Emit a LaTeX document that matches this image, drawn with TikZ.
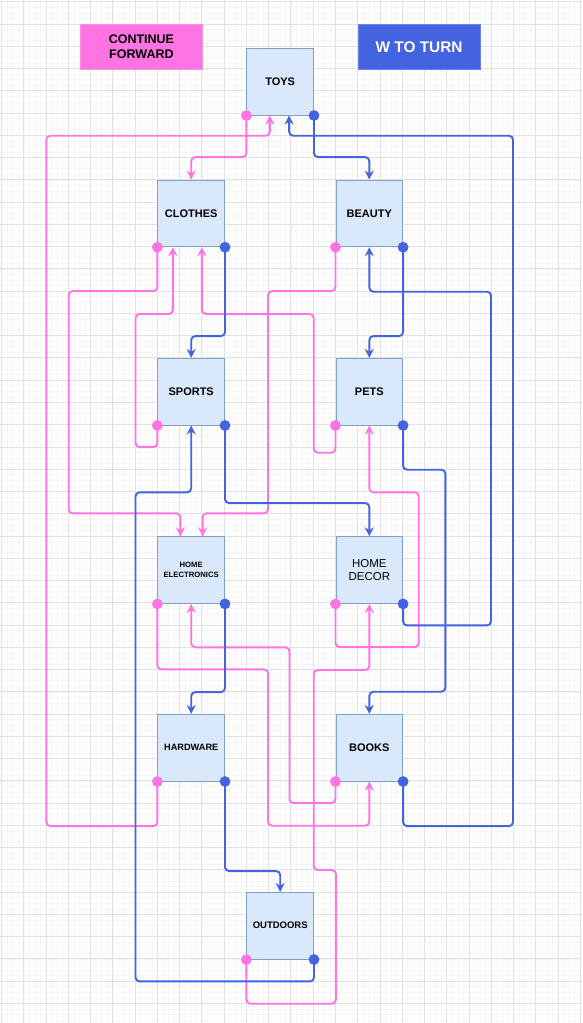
\documentclass[tikz,border=0pt]{standalone}
\usepackage{fontspec}
\setmainfont{Liberation Sans}
\usetikzlibrary{arrows.meta,calc}
\definecolor{pk}{HTML}{FF73E3}
\definecolor{bl}{HTML}{4363E0}
\definecolor{boxfill}{HTML}{DAE8FC}
\definecolor{boxdraw}{HTML}{7F9FCF}
\definecolor{gridmajor}{HTML}{E2E2E2}
\definecolor{gridminor}{HTML}{F6F6F6}
\begin{document}
\begin{tikzpicture}[x=1pt,y=-1pt,
  cat/.style={draw=boxdraw, fill=boxfill, line width=0.8pt, minimum width=66.8pt, minimum height=66.8pt, inner sep=0pt, align=center, font=\bfseries\fontsize{11}{13}\selectfont},
  pkl/.style={draw=pk, line width=1.9pt, rounded corners=4pt, -{Stealth[length=9pt,width=9pt,inset=3pt]}},
  bll/.style={draw=bl, line width=1.9pt, rounded corners=4pt, -{Stealth[length=9pt,width=9pt,inset=3pt]}},
  legend/.style={minimum width=121.8pt, minimum height=45pt, inner sep=0pt, align=center, font=\bfseries\fontsize{12.5}{15}\selectfont}
]
\useasboundingbox (0,0) rectangle (582,1023);
\fill[white] (0,0) rectangle (582,1023);
% grid
\foreach \i in {0,...,105} \draw[gridminor, line width=0.5pt] ({1.5+5.565*\i},0) -- ++(0,1023);
\foreach \i in {0,...,184} \draw[gridminor, line width=0.5pt] (0,{1.7+5.565*\i}) -- ++(582,0);
\foreach \i in {0,...,26} \draw[gridmajor, line width=0.8pt] ({1.5+22.26*\i},0) -- ++(0,1023);
\foreach \i in {0,...,46} \draw[gridmajor, line width=0.8pt] (0,{1.7+22.26*\i}) -- ++(582,0);

% legend
\node[legend, fill=pk, draw=pk!80!white] (cf) at (141.4,46.8) {CONTINUE\\FORWARD};
\node[legend, fill=bl, draw=bl!80!white, text=white, font=\bfseries\fontsize{15.4}{18}\selectfont] (wt) at (419.1,46.8) {W TO TURN};

% nodes
\node[cat] (toys) at (280.2,81.7) {TOYS};
\node[cat] (clothes) at (191.2,213.4) {CLOTHES};
\node[cat] (beauty) at (369.3,213.4) {BEAUTY};
\node[cat] (sports) at (191.2,391.7) {SPORTS};
\node[cat] (pets) at (369.3,391.7) {PETS};
\node[cat, font=\bfseries\fontsize{7.7}{10}\selectfont] (helec) at (191.2,570.1) {HOME\\ELECTRONICS};
\node[cat, font=\fontsize{11.5}{12.7}\selectfont] (hdecor) at (369.3,570.1) {HOME\\DECOR};
\node[cat, font=\bfseries\fontsize{9.2}{11}\selectfont] (hardware) at (191.2,747.7) {HARDWARE};
\node[cat] (books) at (369.3,747.7) {BOOKS};
\node[cat, font=\bfseries\fontsize{9.5}{11}\selectfont] (outdoors) at (280.2,925.7) {OUTDOORS};

% pink connectors (continue forward)
\draw[pkl] (toys.south west) -- ++(0,41.6) -| (clothes.north);
\draw[pkl] (hardware.south west) -- ++(0,44.6) -| (46.4,135.7) -| ($(toys.south west)+(23.4,0)$);
\draw[pkl] (clothes.south west) -- ++(0,43.9) -| (68.7,513.3) -| ($(helec.north west)+(23,0)$);
\draw[pkl] (sports.south west) -- ++(0,21.6) -| (135.5,314) -| ($(clothes.south west)+(15.5,0)$);
\draw[pkl] (pets.south west) -- ++(0,27.2) -| (313.7,314) -| ($(clothes.south west)+(44.5,0)$);
\draw[pkl] (beauty.south west) -- ++(0,43.9) -| (268,513.3) -| ($(helec.north west)+(45.2,0)$);
\draw[pkl] (hdecor.south west) -- ++(0,43.2) -| (418.7,492.3) -| (pets.south);
\draw[pkl] (helec.south west) -- ++(0,65.5) -| (268,825.7) -| (books.south);
\draw[pkl] (books.south west) -- ++(0,21.6) -| (289.5,647.3) -| (helec.south);
\draw[pkl] (outdoors.south west) -- ++(0,44.2) -| (335.9,870) -| (313.7,670) -| (hdecor.south);

% blue connectors (turn)
\draw[bll] (toys.south east) -- ++(0,41.6) -| (beauty.north);
\draw[bll] (books.south east) -- ++(0,44.6) -| (513,135.7) -| ($(toys.south west)+(42.7,0)$);
\draw[bll] (clothes.south east) -- ++(0,88.9) -| (sports.north);
\draw[bll] (hdecor.south east) -- ++(0,21.5) -| (491,291.7) -| (beauty.south);
\draw[bll] (beauty.south east) -- ++(0,88.9) -| (pets.north);
\draw[bll] (outdoors.south east) -- ++(0,21.9) -| (135.5,492.3) -| (sports.south);
\draw[bll] (sports.south east) -- ++(0,77.6) -| (hdecor.north);
\draw[bll] (pets.south east) -- ++(0,44.2) -| (445.4,691.7) -| (books.north);
\draw[bll] (helec.south east) -- ++(0,88.2) -| (hardware.north);
\draw[bll] (hardware.south east) -- ++(0,89.6) -| (outdoors.north);

% source dots
\foreach \n in {toys,clothes,beauty,sports,pets,helec,hdecor,hardware,books,outdoors}{
  \fill[pk] (\n.south west) circle (5.4pt);
  \fill[bl] (\n.south east) circle (5.4pt);
}
\end{tikzpicture}
\end{document}
